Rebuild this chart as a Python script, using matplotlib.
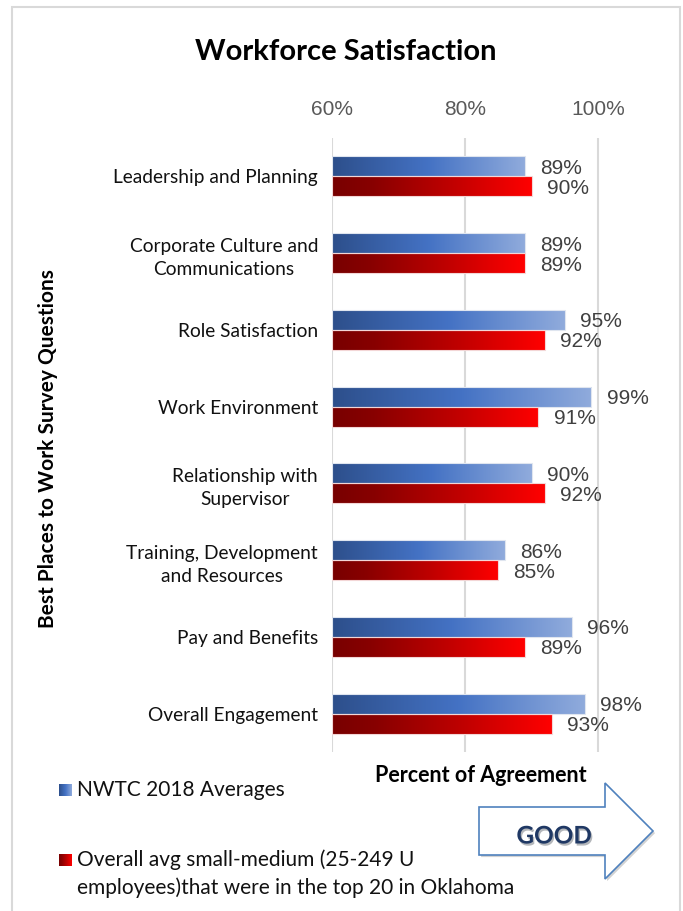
import numpy as np
import matplotlib
matplotlib.use("Agg")
import matplotlib.pyplot as plt
from matplotlib.colors import LinearSegmentedColormap
from matplotlib.patches import Polygon, Rectangle
import matplotlib.patheffects as pe

# --- survey data ---------------------------------------------------
questions = [
    "Leadership and Planning",
    "Corporate Culture and\nCommunications",
    "Role Satisfaction",
    "Work Environment",
    "Relationship with\nSupervisor",
    "Training, Development\nand Resources",
    "Pay and Benefits",
    "Overall Engagement",
]
nwtc_2018 = [89, 89, 95, 99, 90, 86, 96, 98]
oklahoma_top20 = [90, 89, 92, 91, 92, 85, 89, 93]
series_names = [
    "NWTC 2018 Averages",
    "Overall avg small-medium (25-249 U\nemployees)that were in the top 20 in Oklahoma",
]
x_ticks = [60, 80, 100]

W, H = 683, 911
LABEL_FONT = "Lato"
NUM_FONT = "Liberation Sans"

blue_cmap = LinearSegmentedColormap.from_list(
    "blue_grad", [(0, "#2d4f8b"), (0.5, "#4472c4"), (1, "#90abdc")])
red_cmap = LinearSegmentedColormap.from_list(
    "red_grad", [(0, "#780000"), (0.2, "#880000"), (0.6, "#c00000"), (1, "#ff0000")])


def px(x, y):
    # pixel position -> figure fraction
    return x / W, 1 - y / H


fig = plt.figure(figsize=(W / 100, H / 100), dpi=100)

# outer frame
fig.patches.append(Rectangle(px(12, 930), 668 / W, 923 / H, transform=fig.transFigure,
                             fill=False, edgecolor="#d9d9d9", linewidth=1.5))

ax = fig.add_axes([332 / W, 1 - 752 / H, 328 / W, 614 / H])

y = np.arange(len(questions))
h = 0.26
bars_b = ax.barh(y - h / 2, [v - 60 for v in nwtc_2018], left=60, height=h,
                 color="none", edgecolor="#dfe5ef", linewidth=0.8, zorder=4)
bars_r = ax.barh(y + h / 2, [v - 60 for v in oklahoma_top20], left=60, height=h,
                 color="none", edgecolor="#f3d6d6", linewidth=0.8, zorder=4)

grad = np.linspace(0, 1, 256).reshape(1, -1)
for bars, cmap in [(bars_b, blue_cmap), (bars_r, red_cmap)]:
    for p in bars:
        x0, y0 = p.get_x(), p.get_y()
        ax.imshow(grad, cmap=cmap, aspect="auto", interpolation="bicubic",
                  extent=[x0, x0 + p.get_width(), y0 + p.get_height(), y0], zorder=3)

# value labels next to the bar ends
for bars, vals in [(bars_b, nwtc_2018), (bars_r, oklahoma_top20)]:
    for p, v in zip(bars, vals):
        ax.annotate(f"{v}%", (v, p.get_y() + p.get_height() / 2),
                    xytext=(11, -1.5), textcoords="offset points",
                    ha="left", va="center", fontsize=15, family=NUM_FONT,
                    color="#404040", zorder=5)

ax.set_xlim(60, 109.3)
ax.set_ylim(len(questions) - 0.5, -0.5)
ax.set_xticks(x_ticks)
ax.set_xticklabels([f"{t}%" for t in x_ticks], family=NUM_FONT, fontsize=15, color="#595959")
ax.xaxis.tick_top()
ax.tick_params(axis="x", length=0, pad=14)
ax.set_yticks(y)
ax.set_yticklabels(questions, family=LABEL_FONT, fontsize=13.8, color="#111111",
                   multialignment="center", linespacing=1.45)
ax.tick_params(axis="y", length=0, pad=10)
ax.grid(axis="x", color="#d9d9d9", linewidth=1.5, zorder=0)
ax.set_axisbelow(True)
for s in ax.spines.values():
    s.set_visible(False)

# titles
fig.text(*px(346, 52), "Workforce Satisfaction", ha="center", va="center",
         fontsize=21, fontweight="bold", family=LABEL_FONT, color="black")
fig.text(*px(48, 449), "Best Places to Work Survey Questions", ha="center", va="center",
         rotation=90, fontsize=15, fontweight="bold", family=LABEL_FONT, color="black")
fig.text(*px(481, 775), "Percent of Agreement", ha="center", va="center",
         fontsize=15.5, fontweight="bold", family=LABEL_FONT, color="black")

# legend with small gradient swatches
legend_rows = [(790, 790, blue_cmap, series_names[0]),
               (860, 874, red_cmap, series_names[1])]
for sw_y, txt_y, cmap, name in legend_rows:
    sw = fig.add_axes([59 / W, 1 - (sw_y + 6.5) / H, 13 / W, 13 / H])
    sw.imshow(grad, cmap=cmap, aspect="auto")
    sw.set_axis_off()
    fig.text(*px(77, txt_y), name, ha="left", va="center", fontsize=15,
             family=LABEL_FONT, color="#111111", linespacing=1.45)

# "GOOD" arrow
arrow_pts = [(479, 807), (605, 807), (605, 783), (653, 831),
             (605, 879), (605, 855), (479, 855)]
arrow = Polygon([px(*p) for p in arrow_pts], closed=True, transform=fig.transFigure,
                facecolor="white", edgecolor="#4f81bd", linewidth=1.2,
                path_effects=[pe.SimplePatchShadow(offset=(1.5, -1.5), alpha=0.25), pe.Normal()])
fig.patches.append(arrow)
fig.text(*px(554, 836), "GOOD", ha="center", va="center", fontsize=17.5,
         fontweight="bold", family=LABEL_FONT, color="#1f3864",
         path_effects=[pe.withSimplePatchShadow(offset=(1, -1.5), alpha=0.3)])

fig.savefig("out.png", dpi=100)
